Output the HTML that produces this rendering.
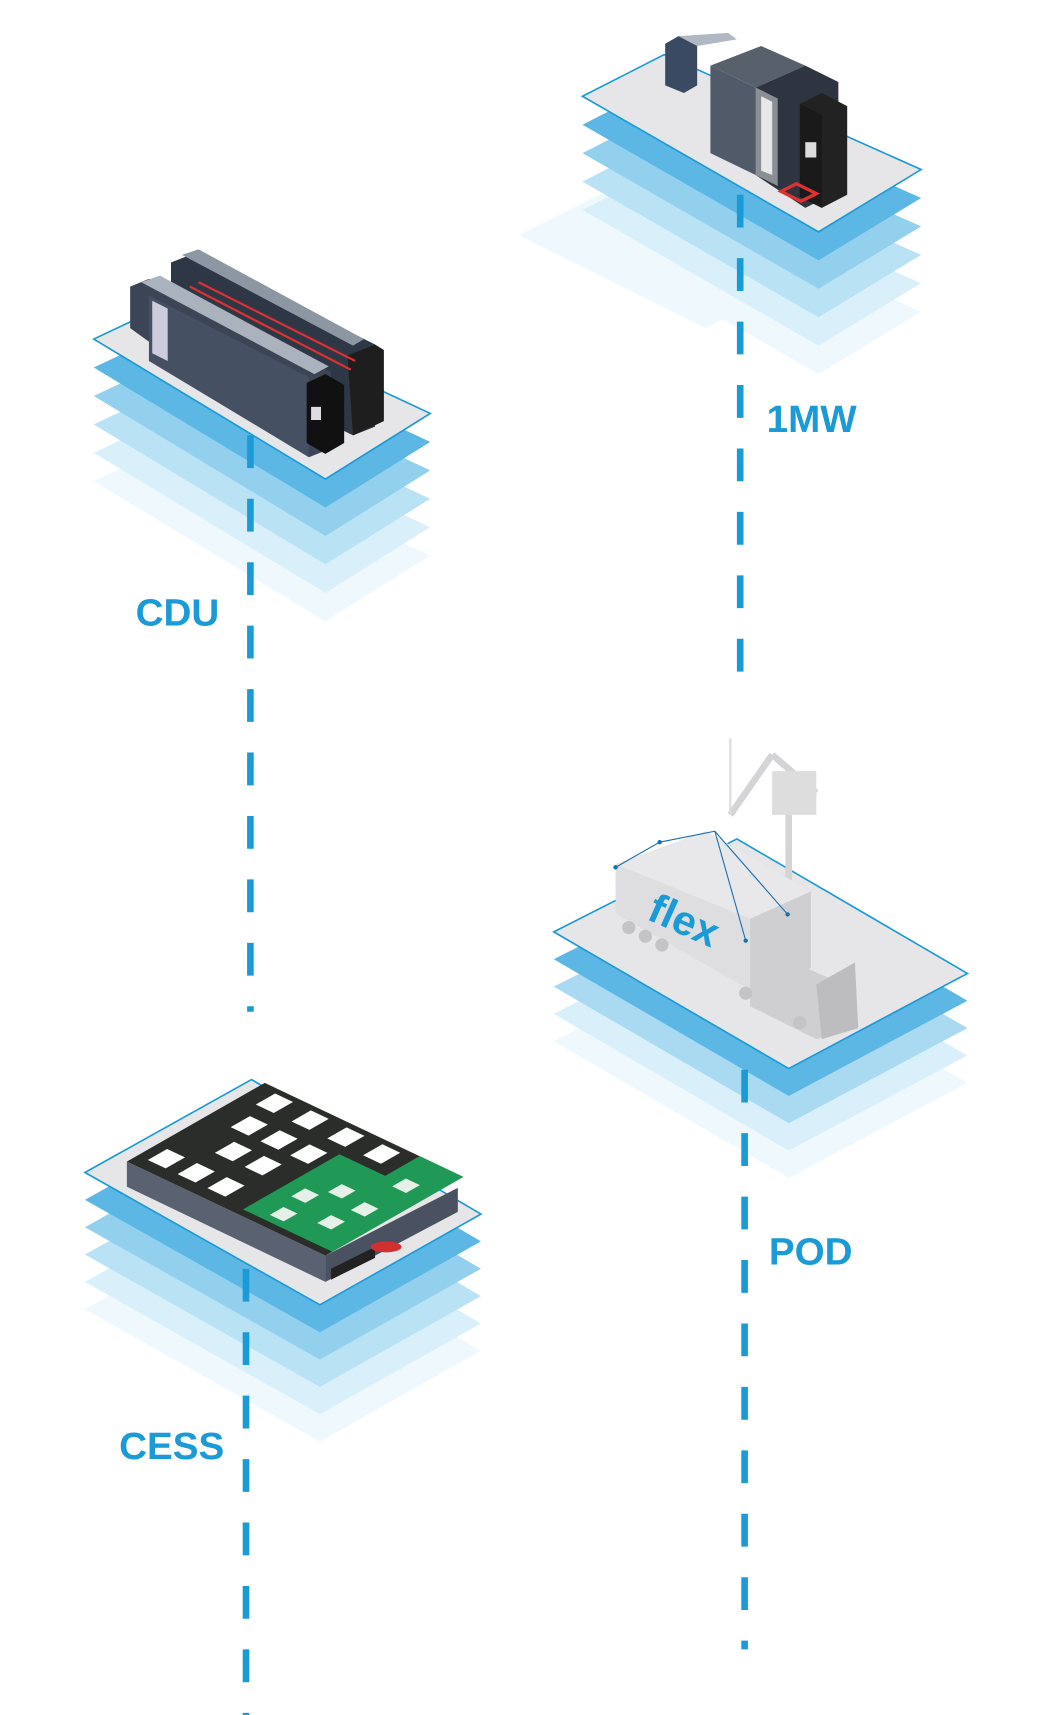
<!DOCTYPE html>
<html><head><meta charset="utf-8"><style>
html,body{margin:0;padding:0;background:#fff;}
svg{display:block}
text{font-family:"Liberation Sans",sans-serif;font-weight:bold;fill:#1a9ad6;}
</style></head><body>
<svg width="1059" height="1715" viewBox="0 0 960 1568" preserveAspectRatio="none" xmlns="http://www.w3.org/2000/svg">

<!-- 1MW platform -->
<g>
<polygon points="470,215 600,150 770,230 640,300" fill="#eaf6fc" opacity="0.8"/>
<g transform="translate(0,130)"><polygon points="528,88 602,50 835,155 742,212" fill="#eef8fd"/></g>
<g transform="translate(0,104)"><polygon points="528,88 602,50 835,155 742,212" fill="#d9f0fa"/></g>
<g transform="translate(0,78)"><polygon points="528,88 602,50 835,155 742,212" fill="#b9e2f5"/></g>
<g transform="translate(0,52)"><polygon points="528,88 602,50 835,155 742,212" fill="#92d0ee"/></g>
<g transform="translate(0,26)"><polygon points="528,88 602,50 835,155 742,212" fill="#5db7e4"/></g>
<polygon points="528,88 602,50 835,155 742,212" fill="#e6e6e8" stroke="#1a9ad6" stroke-width="1.5"/>
</g>

<!-- CDU platform -->
<g>
<g transform="translate(0,130)"><polygon points="85,310 165,272 390,378 295,438" fill="#eef8fd"/></g>
<g transform="translate(0,104)"><polygon points="85,310 165,272 390,378 295,438" fill="#d9f0fa"/></g>
<g transform="translate(0,78)"><polygon points="85,310 165,272 390,378 295,438" fill="#b9e2f5"/></g>
<g transform="translate(0,52)"><polygon points="85,310 165,272 390,378 295,438" fill="#92d0ee"/></g>
<g transform="translate(0,26)"><polygon points="85,310 165,272 390,378 295,438" fill="#5db7e4"/></g>
<polygon points="85,310 165,272 390,378 295,438" fill="#e6e6e8" stroke="#1a9ad6" stroke-width="1.5"/>
</g>

<!-- POD platform -->
<g>
<g transform="translate(0,100)"><polygon points="502,852 668,767 877,890 715,977" fill="#eef8fd"/></g>
<g transform="translate(0,75)"><polygon points="502,852 668,767 877,890 715,977" fill="#d9f0fa"/></g>
<g transform="translate(0,50)"><polygon points="502,852 668,767 877,890 715,977" fill="#a9daf2"/></g>
<g transform="translate(0,25)"><polygon points="502,852 668,767 877,890 715,977" fill="#5db7e4"/></g>
<polygon points="502,852 668,767 877,890 715,977" fill="#e6e6e8" stroke="#1a9ad6" stroke-width="1.5"/>
</g>

<!-- CESS platform -->
<g>
<g transform="translate(0,125)"><polygon points="77,1072 228,987 436,1110 290,1193" fill="#eef8fd"/></g>
<g transform="translate(0,100)"><polygon points="77,1072 228,987 436,1110 290,1193" fill="#d9f0fa"/></g>
<g transform="translate(0,75)"><polygon points="77,1072 228,987 436,1110 290,1193" fill="#b9e2f5"/></g>
<g transform="translate(0,50)"><polygon points="77,1072 228,987 436,1110 290,1193" fill="#92d0ee"/></g>
<g transform="translate(0,25)"><polygon points="77,1072 228,987 436,1110 290,1193" fill="#5db7e4"/></g>
<polygon points="77,1072 228,987 436,1110 290,1193" fill="#e6e6e8" stroke="#1a9ad6" stroke-width="1.5"/>
</g>

<!-- dashed lines (on top of platform layers) -->
<g stroke="#1a9ad6" stroke-width="6" stroke-dasharray="30 28" fill="none">
<line x1="671" y1="178" x2="671" y2="617"/>
<line x1="227" y1="398" x2="227" y2="925"/>
<line x1="675" y1="978" x2="675" y2="1508"/>
<line x1="223" y1="1160" x2="223" y2="1568"/>
</g>

<!-- 1MW equipment -->
<polygon points="603,40 615,33 632,40 632,78 620,85 603,78" fill="#3b4a63"/>
<polygon points="615,33 660,30 668,36 632,42" fill="#b0b8c4"/>
<polygon points="644,60 690,42 730,60 685,80" fill="#58606c"/>
<polygon points="644,60 685,80 685,160 644,140" fill="#505a68"/>
<polygon points="685,80 730,60 760,75 760,175 730,190 685,160" fill="#2f3540"/>
<polygon points="685,80 705,90 705,170 685,160" fill="#8a8f96"/>
<polygon points="690,88 700,93 700,160 690,156" fill="#e8e8e8"/>
<polygon points="725,95 745,85 768,97 768,178 745,190 725,180" fill="#222"/>
<polygon points="725,95 745,105 745,190 725,180" fill="#1a1a1a"/>
<rect x="730" y="130" width="10" height="14" fill="#ddd"/>
<polygon points="708,175 722,168 740,177 726,184" fill="none" stroke="#e03030" stroke-width="3"/>
<text x="695" y="395" font-size="35">1MW</text>

<!-- CDU equipment -->
<polygon points="155,240 175,232 340,315 340,390 320,398 155,315" fill="#2e3746"/>
<polygon points="165,233 180,228 330,310 320,316" fill="#8d96a3"/>
<polygon points="315,325 340,315 348,320 348,385 320,398" fill="#1e1e1e"/>
<polygon points="118,262 135,255 300,340 300,410 280,418 118,300" fill="#3b4555"/>
<polygon points="135,270 280,345 280,418 135,330" fill="#465063"/>
<polygon points="138,275 152,282 152,330 138,323" fill="#ccd"/>
<polygon points="128,258 145,252 298,335 285,342" fill="#a9b2bd"/>
<polygon points="278,350 295,342 312,352 312,405 295,415 278,405" fill="#111"/>
<rect x="282" y="372" width="9" height="12" fill="#ddd"/>
<polyline points="172,262 318,338" stroke="#e03030" stroke-width="2" fill="none"/>
<polyline points="180,258 322,330" stroke="#e03030" stroke-width="2" fill="none"/>
<text x="123" y="572" font-size="35">CDU</text>

<!-- POD objects -->
<g stroke="#d4d4d6" stroke-width="6" fill="none">
<line x1="662" y1="745" x2="700" y2="690"/>
<line x1="700" y1="690" x2="740" y2="725"/>
<line x1="715" y1="740" x2="715" y2="810"/>
</g>
<line x1="662" y1="675" x2="662" y2="745" stroke="#ddd" stroke-width="2"/>
<rect x="700" y="705" width="40" height="40" fill="#ddd"/>
<polygon points="558,790 640,760 735,815 735,885 680,905 558,835" fill="#dedee0"/>
<polygon points="680,840 735,815 735,885 680,905" fill="#cfcfd2"/>
<polygon points="558,790 640,760 735,815 680,840" fill="#e8e8ea"/>
<text x="585" y="840" font-size="38" transform="rotate(24 585 840)">flex</text>
<polygon points="680,905 720,880 775,905 778,940 740,950 680,920" fill="#cfcfd2"/>
<polygon points="740,900 775,880 778,940 745,950" fill="#bdbdc0"/>
<g fill="#c4c4c6"><circle cx="570" cy="848" r="6"/><circle cx="585" cy="856" r="6"/><circle cx="600" cy="864" r="6"/><circle cx="676" cy="908" r="6"/><circle cx="725" cy="935" r="6"/></g>
<g stroke="#1a6fb0" stroke-width="1" fill="none">
<polyline points="558,793 598,770 648,760 714,836"/>
<line x1="648" y1="760" x2="676" y2="860"/>
</g>
<g fill="#1a6fb0"><circle cx="558" cy="793" r="2"/><circle cx="598" cy="770" r="2"/><circle cx="714" cy="836" r="2"/><circle cx="676" cy="860" r="2"/></g>
<text x="697" y="1156" font-size="35">POD</text>

<!-- CESS board -->
<polygon points="115,1062 295,1148 295,1172 115,1085" fill="#5a6272"/>
<polygon points="295,1148 415,1086 415,1108 295,1172" fill="#4a5160"/>
<g transform="matrix(125,-72,180,86,115,1062)">
<polygon points="0,0 1,0 1,1 0,1" fill="#2b2d2b"/>
<polygon points="0.05,0.55 0.75,0.55 0.75,0.78 1,0.78 1,1 0.05,1" fill="#1f9955"/>
<g fill="#fff">
<rect x="0.08" y="0.05" width="0.14" height="0.09"/>
<rect x="0.08" y="0.2" width="0.14" height="0.09"/>
<rect x="0.08" y="0.35" width="0.14" height="0.09"/>
<rect x="0.35" y="0.2" width="0.14" height="0.09"/>
<rect x="0.35" y="0.35" width="0.14" height="0.09"/>
<rect x="0.58" y="0.12" width="0.14" height="0.09"/>
<rect x="0.58" y="0.27" width="0.14" height="0.09"/>
<rect x="0.58" y="0.42" width="0.14" height="0.09"/>
<rect x="0.82" y="0.08" width="0.14" height="0.09"/>
<rect x="0.82" y="0.26" width="0.14" height="0.09"/>
<rect x="0.82" y="0.44" width="0.14" height="0.09"/>
<rect x="0.82" y="0.62" width="0.14" height="0.09"/>
</g>
<g fill="#e5f0e8">
<rect x="0.1" y="0.65" width="0.1" height="0.07"/>
<rect x="0.3" y="0.62" width="0.1" height="0.07"/>
<rect x="0.45" y="0.7" width="0.1" height="0.07"/>
<rect x="0.2" y="0.82" width="0.1" height="0.07"/>
<rect x="0.4" y="0.85" width="0.1" height="0.07"/>
<rect x="0.7" y="0.85" width="0.1" height="0.07"/>
</g>
</g>
<polygon points="300,1160 340,1140 340,1150 300,1170" fill="#222"/>
<ellipse cx="350" cy="1140" rx="14" ry="5" fill="#d03030"/>
<text x="108" y="1334" font-size="35">CESS</text>
</svg>
</body></html>
